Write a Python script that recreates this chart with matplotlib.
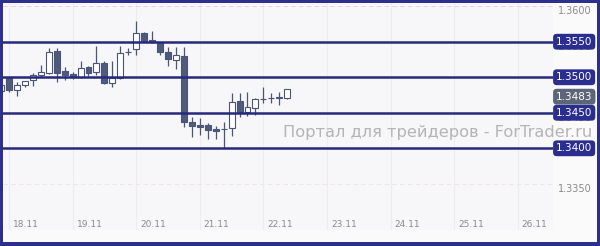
import matplotlib.pyplot as plt
import matplotlib.transforms as mtransforms
from matplotlib.patches import Rectangle

# 3-hour candles, 8 per day, first one is the last bar of 17.11
days = ['18.11', '19.11', '20.11', '21.11', '22.11', '23.11', '24.11', '25.11', '26.11']
opens = [1.3481, 1.3499, 1.3482, 1.3489, 1.3496, 1.3503, 1.3506, 1.3537, 1.3509, 1.3505,
         1.3500, 1.3514, 1.3507, 1.3520, 1.3492, 1.3499, 1.3535, 1.3540, 1.3562, 1.3552,
         1.3550, 1.3535, 1.3524, 1.3530, 1.3437, 1.3433, 1.3433, 1.3427, 1.3427, 1.3429,
         1.3467, 1.3451, 1.3457, 1.3469, 1.3471, 1.3471, 1.3471]
highs = [1.3492, 1.3500, 1.3493, 1.3495, 1.3506, 1.3517, 1.3541, 1.3541, 1.3514, 1.3507,
         1.3523, 1.3516, 1.3544, 1.3523, 1.3523, 1.3544, 1.3541, 1.3579, 1.3564, 1.3565,
         1.3550, 1.3542, 1.3542, 1.3542, 1.3444, 1.3443, 1.3436, 1.3431, 1.3437, 1.3478,
         1.3478, 1.3479, 1.3471, 1.3486, 1.3478, 1.3479, 1.3483]
lows = [1.3478, 1.3479, 1.3474, 1.3486, 1.3488, 1.3500, 1.3505, 1.3493, 1.3496, 1.3497,
        1.3499, 1.3502, 1.3503, 1.3490, 1.3486, 1.3497, 1.3531, 1.3531, 1.3550, 1.3548,
        1.3531, 1.3516, 1.3512, 1.3430, 1.3416, 1.3419, 1.3413, 1.3413, 1.3400, 1.3417,
        1.3444, 1.3445, 1.3447, 1.3464, 1.3464, 1.3461, 1.3469]
closes = [1.3489, 1.3482, 1.3489, 1.3495, 1.3503, 1.3507, 1.3536, 1.3506, 1.3503, 1.3502,
          1.3513, 1.3506, 1.3520, 1.3492, 1.3499, 1.3534, 1.3536, 1.3562, 1.3551, 1.3550,
          1.3535, 1.3526, 1.3531, 1.3437, 1.3431, 1.3430, 1.3426, 1.3424, 1.3427, 1.3465,
          1.3450, 1.3458, 1.3469, 1.3470, 1.3471, 1.3472, 1.3483]
levels = [1.3550, 1.3500, 1.3450, 1.3400]
last_price = 1.3483
price_ticks = [1.3350, 1.3400, 1.3450, 1.3500, 1.3550, 1.3600]

bars_per_day = 8
first_bar = -1

W, H = 600, 246
fig = plt.figure(figsize=(W / 100, H / 100), dpi=100, facecolor='#2c2f8c')

# inner panel inside the dark blue frame
fig.patches.append(Rectangle((3 / W, 4 / H), 594 / W, 239 / H, transform=fig.transFigure,
                             facecolor='#fafafb', edgecolor='none', zorder=-5))

ax = fig.add_axes([3 / W, (H - 230) / H, 550 / W, 227 / H])
ax.set_zorder(1)
ax.set_facecolor('#f7f7f9')
for s in ax.spines.values():
    s.set_visible(False)
ax.set_xticks([])
ax.set_yticks([])
ax.set_xlim(-0.755, 68.43)
ax.set_ylim(1.32850, 1.36045)

# grid
for i in range(len(days)):
    ax.axvline(i * bars_per_day, color='#ededf0', lw=0.8, zorder=1)
for p in price_ticks:
    ax.axhline(p, color='#f1e4e6' if p < max(price_ticks) else '#ecd6da',
               lw=0.8, ls=(0, (4, 3)), zorder=1)

# candles
xs = [first_bar + i for i in range(len(opens))]
ax.vlines(xs, lows, highs, color='#4b5577', lw=0.9, zorder=2)
up = [c >= o for o, c in zip(opens, closes)]
ax.bar(xs, [abs(c - o) for o, c in zip(opens, closes)], bottom=[min(o, c) for o, c in zip(opens, closes)],
       width=0.75, color=['white' if u else '#4f5a7c' for u in up], edgecolor='#4b5577',
       linewidth=0.8, zorder=3)

# levels
for lv in levels:
    ax.axhline(lv, color='#27297a', lw=1.8, zorder=4)

trans = mtransforms.blended_transform_factory(ax.transAxes, ax.transData)
xtrans = mtransforms.blended_transform_factory(ax.transData, ax.transAxes)

# price scale labels (top of text sits just under the level)
for p in price_ticks:
    ax.text(1 + 5 / 550, p, f'{p:.4f}', transform=trans, ha='left', va='top', fontsize=7,
            color='#8a8a8a', clip_on=False, zorder=5)

for lv in levels:
    ax.text(1 + 3 / 550, lv, f'{lv:.4f}', transform=trans, ha='left', va='center', fontsize=7.5,
            color='white', clip_on=False, zorder=7,
            bbox=dict(boxstyle='round,pad=0.28,rounding_size=0.35', fc='#2b2e8e', ec='none'))
ax.annotate(f'{last_price:.4f}', (1 + 3 / 550, last_price), xycoords=trans, xytext=(0, -5.3),
            textcoords='offset points', ha='left', va='center', fontsize=7.5, color='white',
            annotation_clip=False, zorder=7,
            bbox=dict(boxstyle='round,pad=0.28,rounding_size=0.35', fc='#5d6679', ec='none'))

# dates
for i, d in enumerate(days):
    ax.text(i * bars_per_day + 0.5, 0.026, d, transform=xtrans, ha='left', va='center',
            fontsize=6.5, color='#8a8a8a', zorder=5)

# watermark
fig.text(283 / W, 1 - 132 / H, 'Портал для трейдеров - ForTrader.ru', ha='left', va='center',
         fontsize=11.7, color='#b4b4b4', zorder=10)

fig.savefig('out.png', dpi=100, facecolor=fig.get_facecolor())
